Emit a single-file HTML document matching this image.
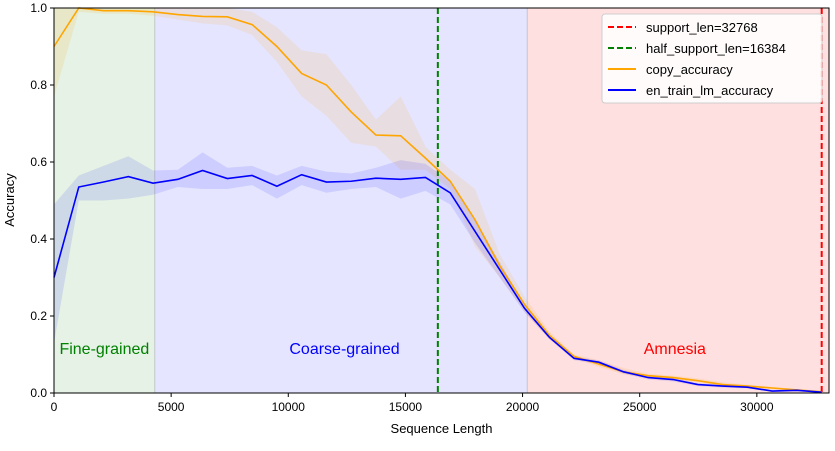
<!DOCTYPE html>
<html><head><meta charset="utf-8">
<style>
body{margin:0;background:#fff;font-family:"Liberation Sans",sans-serif;}
svg text{font-family:"Liberation Sans",sans-serif;}
</style></head>
<body>
<svg id="chart" width="835" height="446" xmlns="http://www.w3.org/2000/svg"></svg>
<script>
const seqLengths = Array.from({length:32},(_,i)=>i*32768/31);
const copyAcc = [0.90,1.0,0.993,0.993,0.99,0.983,0.978,0.977,0.957,0.90,0.83,0.80,0.73,0.67,0.668,0.61,0.55,0.45,0.33,0.23,0.15,0.095,0.075,0.055,0.045,0.04,0.032,0.022,0.018,0.013,0.008,0.003];
const copyUpper = [1.0,1.0,1.0,1.0,1.0,1.0,1.0,1.0,0.99,0.95,0.89,0.88,0.80,0.71,0.77,0.64,0.58,0.53,0.36,0.25,0.16,0.10,0.085,0.065,0.05,0.045,0.038,0.028,0.022,0.016,0.01,0.005];
const copyLower = [0.77,0.99,0.985,0.985,0.98,0.97,0.96,0.955,0.93,0.86,0.77,0.72,0.65,0.64,0.58,0.58,0.53,0.38,0.30,0.21,0.14,0.09,0.068,0.048,0.04,0.035,0.028,0.018,0.015,0.01,0.006,0.001];
const lmAcc = [0.30,0.535,0.548,0.562,0.545,0.555,0.578,0.557,0.565,0.537,0.567,0.548,0.55,0.558,0.555,0.56,0.52,0.42,0.32,0.22,0.145,0.09,0.08,0.055,0.04,0.035,0.022,0.018,0.015,0.005,0.007,0.002];
const lmUpper = [0.49,0.565,0.59,0.615,0.578,0.58,0.625,0.585,0.59,0.565,0.59,0.575,0.57,0.585,0.605,0.595,0.55,0.45,0.34,0.23,0.15,0.095,0.085,0.06,0.045,0.04,0.026,0.022,0.018,0.008,0.01,0.004];
const lmLower = [0.13,0.50,0.50,0.505,0.515,0.535,0.53,0.53,0.54,0.505,0.54,0.52,0.53,0.535,0.505,0.525,0.49,0.39,0.30,0.21,0.14,0.085,0.075,0.05,0.035,0.03,0.018,0.014,0.012,0.003,0.004,0.0];
const xTicks = [0,5000,10000,15000,20000,25000,30000];
const yTicks = [0.0,0.2,0.4,0.6,0.8,1.0];
const regions = [
 {name:'fine-grained', from:0, to:4300, color:'rgba(0,128,0,0.10)', label:'Fine-grained', lx:2150, lc:'#008000'},
 {name:'coarse-grained', from:4300, to:20200, color:'rgba(0,0,255,0.10)', label:'Coarse-grained', lx:12400, lc:'#0000ff'},
 {name:'amnesia', from:20200, to:33080, color:'rgba(255,0,0,0.12)', label:'Amnesia', lx:26500, lc:'#ff0000'}
];
const X0=54,X1=829,Y0=393,Y1=8,XMAX=33080;
const xs=v=>X0+v*(X1-X0)/XMAX;
const ys=v=>Y0-v*(Y0-Y1);
const svg=document.getElementById('chart');
const NS='http://www.w3.org/2000/svg';
function mk(tag,attrs,parent){const e=document.createElementNS(NS,tag);for(const k in attrs)e.setAttribute(k,attrs[k]);(parent||svg).appendChild(e);return e;}
regions.forEach(r=>{
 const e=mk('rect',{x:xs(r.from),y:Y1,width:xs(r.to)-xs(r.from),height:Y0-Y1,fill:r.color,stroke:'rgba(0,0,0,0.08)','stroke-width':1});
 
 
});
function band(up,lo,color,name){
 let d='M'+seqLengths.map((x,i)=>xs(x)+','+ys(up[i])).join('L');
 d+='L'+seqLengths.map((x,i)=>xs(x)+','+ys(lo[i])).reverse().join('L')+'Z';
 const e=mk('path',{d:d,fill:color});
 
 
}
band(copyUpper,copyLower,'rgba(255,165,0,0.12)','copy-accuracy-band');
band(lmUpper,lmLower,'rgba(0,0,255,0.10)','lm-accuracy-band');
let e=mk('line',{x1:xs(16384),x2:xs(16384),y1:Y1,y2:Y0,stroke:'#008000','stroke-width':2,'stroke-dasharray':'6,3'});


e=mk('line',{x1:xs(32768),x2:xs(32768),y1:Y1,y2:Y0,stroke:'#ff0000','stroke-width':2,'stroke-dasharray':'6,3'});


function line(vals,color,name){
 const e=mk('polyline',{points:seqLengths.map((x,i)=>xs(x)+','+ys(vals[i])).join(' '),fill:'none',stroke:color,'stroke-width':1.6});
 
 
}
line(copyAcc,'#ffa500','copy-accuracy-line');
line(lmAcc,'#0000ff','lm-accuracy-line');
regions.forEach(r=>{
 const t=mk('text',{x:xs(r.lx),y:354,'text-anchor':'middle','font-size':16,fill:r.lc});
 t.textContent=r.label;
 
 
});
e=mk('rect',{x:X0,y:Y1,width:X1-X0,height:Y0-Y1,fill:'none',stroke:'#000','stroke-width':1});


xTicks.forEach(v=>{
 mk('line',{x1:xs(v),x2:xs(v),y1:Y0,y2:Y0+4,stroke:'#000'});
 const t=mk('text',{x:xs(v),y:Y0+18,'text-anchor':'middle','font-size':12});
 t.textContent=v;
 
 
});
yTicks.forEach(v=>{
 mk('line',{x1:X0-4,x2:X0,y1:ys(v),y2:ys(v),stroke:'#000'});
 const t=mk('text',{x:X0-7,y:ys(v)+4,'text-anchor':'end','font-size':12});
 t.textContent=v.toFixed(1);
 
 
});
e=mk('text',{x:(X0+X1)/2,y:433,'text-anchor':'middle','font-size':13});
e.textContent='Sequence Length';


e=mk('text',{x:14,y:200,'text-anchor':'middle','font-size':13,transform:'rotate(-90 14 200)'});
e.textContent='Accuracy';


const lg=mk('g',{});


mk('rect',{x:602,y:14,width:220,height:89,rx:3,fill:'rgba(255,255,255,0.85)',stroke:'#ccc'},lg);
const items=[['support_len=32768','#ff0000',true],['half_support_len=16384','#008000',true],['copy_accuracy','#ffa500',false],['en_train_lm_accuracy','#0000ff',false]];
items.forEach((it,i)=>{
 const y=27+i*21;
 const l=mk('line',{x1:608,x2:636,y1:y,y2:y,stroke:it[1],'stroke-width':2,'stroke-dasharray':it[2]?'6,3':'none'},lg);
 const t=mk('text',{x:646,y:y+5,'font-size':13},lg);
 t.textContent=it[0];
 
 
});
</script>
</body></html>
